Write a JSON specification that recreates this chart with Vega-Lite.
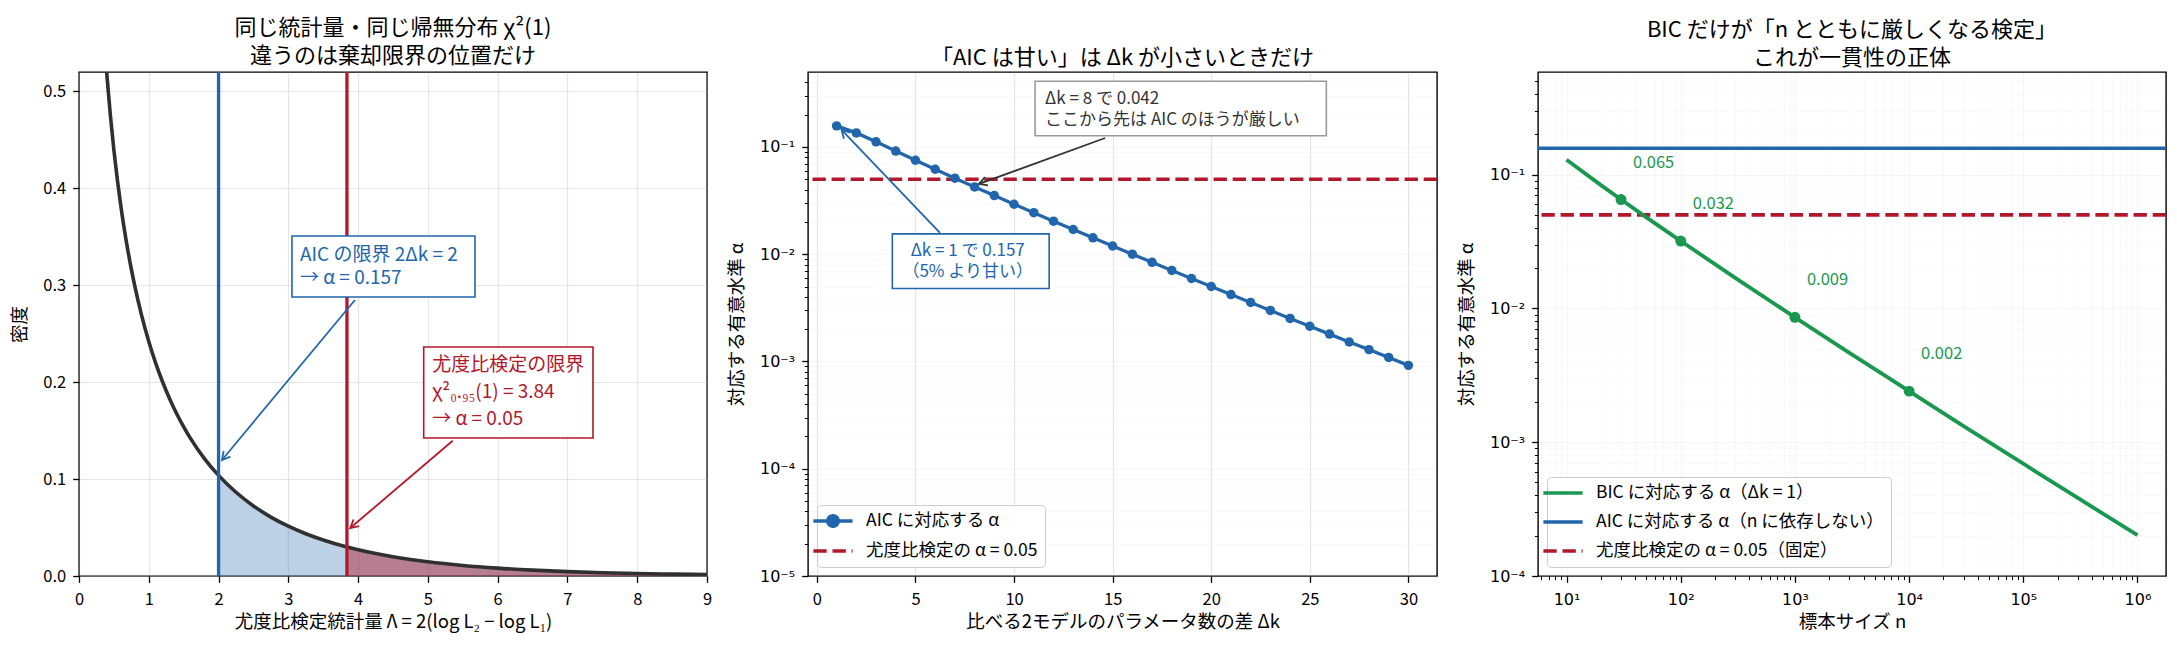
{
  "$schema": "https://vega.github.io/schema/vega-lite/v6.json",
  "background": "white",
  "padding": {"left": 10, "top": 16, "right": 13, "bottom": 5},
  "autosize": {"type": "pad"},
  "spacing": 101,
  "bounds": "flush",
  "config": {
    "font": "Noto Sans CJK JP",
    "view": {"stroke": "#000000", "strokeWidth": 1.4},
    "axis": {"domain": false, "ticks": true, "tickColor": "#000000", "tickWidth": 1.3, "tickSize": 6.3, "labelFont": "Noto Sans CJK JP", "labelFontSize": 16.5, "labelColor": "#000000", "labelPadding": 6, "labelFlush": false, "labelOverlap": false, "labelBound": false, "titleFont": "Noto Sans CJK JP", "titleFontSize": 18.5, "titleFontWeight": "normal", "titleColor": "#000000", "titlePadding": 9, "gridColor": "#b0b0b0", "gridOpacity": 0.32, "gridWidth": 1.2},
    "axisX": {"labelPadding": 9, "titlePadding": 5},
    "axisY": {"labelPadding": 7, "titlePadding": 13},
    "title": {"font": "Noto Sans CJK JP", "fontSize": 22, "fontWeight": "normal", "color": "#000000", "anchor": "middle", "baseline": "bottom", "offset": 2, "lineHeight": 28, "frame": "group"},
    "legend": {"labelFont": "Noto Sans CJK JP", "labelColor": "#000000", "labelLimit": 0}
  },
  "resolve": {"scale": {"x": "independent", "y": "independent", "color": "independent"}, "legend": {"color": "independent"}},
  "datasets": {
    "chi1": [
      {"x":0.3,"d":0.6269},{"x":0.35,"d":0.5661},{"x":0.4,"d":0.5164},{"x":0.45,"d":0.4749},{"x":0.5,"d":0.4394},{"x":0.55,"d":0.4086},{"x":0.6,"d":0.3815},{"x":0.65,"d":0.3575},{"x":0.7,"d":0.336},{"x":0.75,"d":0.3166},{"x":0.8,"d":0.299},{"x":0.9,"d":0.2681},{"x":1.0,"d":0.242},{"x":1.1,"d":0.2194},{"x":1.2,"d":0.1999},{"x":1.3,"d":0.1827},{"x":1.4,"d":0.1674},{"x":1.5,"d":0.1539},{"x":1.6,"d":0.1417},{"x":1.8,"d":0.1209},{"x":2.0,"d":0.1038},{"x":2.25,"d":0.0864},{"x":2.5,"d":0.0723},{"x":2.75,"d":0.0608},{"x":3.0,"d":0.0514},{"x":3.25,"d":0.0436},{"x":3.5,"d":0.0371},{"x":3.84,"d":0.02985},{"x":4.0,"d":0.027},{"x":4.5,"d":0.0198},{"x":5.0,"d":0.01465},{"x":5.5,"d":0.01087},{"x":6.0,"d":0.00811},{"x":6.5,"d":0.00607},{"x":7.0,"d":0.00455},{"x":7.5,"d":0.00342},{"x":8.0,"d":0.00258},{"x":8.5,"d":0.00195},{"x":9.0,"d":0.00148}
    ],
    "crit1": [{"rule": "AIC", "x": 2}, {"rule": "LR", "x": 3.84}],
    "aic": [
      {"dk":1,"alpha":0.1573},{"dk":2,"alpha":0.1353},{"dk":3,"alpha":0.1116},{"dk":4,"alpha":0.0916},{"dk":5,"alpha":0.0752},{"dk":6,"alpha":0.062},{"dk":7,"alpha":0.0512},{"dk":8,"alpha":0.0424},{"dk":9,"alpha":0.0352},{"dk":10,"alpha":0.02925},{"dk":11,"alpha":0.02439},{"dk":12,"alpha":0.02034},{"dk":13,"alpha":0.01701},{"dk":14,"alpha":0.01423},{"dk":15,"alpha":0.01193},{"dk":16,"alpha":0.01},{"dk":17,"alpha":0.0084},{"dk":18,"alpha":0.00706},{"dk":19,"alpha":0.00594},{"dk":20,"alpha":0.005},{"dk":21,"alpha":0.00421},{"dk":22,"alpha":0.00355},{"dk":23,"alpha":0.00299},{"dk":24,"alpha":0.00252},{"dk":25,"alpha":0.00213},{"dk":26,"alpha":0.0018},{"dk":27,"alpha":0.00152},{"dk":28,"alpha":0.00129},{"dk":29,"alpha":0.00109},{"dk":30,"alpha":0.00092}
    ],
    "bic": [
      {"n":10,"alpha":0.1292},{"n":20,"alpha":0.0835},{"n":30,"alpha":0.0651},{"n":50,"alpha":0.0479},{"n":100,"alpha":0.0319},{"n":300,"alpha":0.01693},{"n":1000,"alpha":0.00858},{"n":3000,"alpha":0.00466},{"n":10000,"alpha":0.00241},{"n":30000,"alpha":0.00132},{"n":100000,"alpha":0.000691},{"n":300000,"alpha":0.000383},{"n":1000000,"alpha":0.000202}
    ],
    "bicpts": [
      {"n":30,"alpha":0.0651,"label":"0.065"},{"n":100,"alpha":0.0319,"label":"0.032"},{"n":1000,"alpha":0.00858,"label":"0.009"},{"n":10000,"alpha":0.00241,"label":"0.002"}
    ],
    "annAic1": [{"label": "AIC の限界 2Δk = 2\n→ α = 0.157", "tx": 3.167, "ty": 0.3405, "bx1": 3.052, "bx2": 5.675, "by1": 0.2878, "by2": 0.3508, "ax": 3.955, "ay": 0.2848, "hx": 2.049, "hy": 0.1197}],
    "annLr1": [{"label": "尤度比検定の限界\nχ²₀.₉₅(1) = 3.84\n→ α = 0.05", "tx": 5.061, "ty": 0.2273, "bx1": 4.94, "bx2": 7.366, "by1": 0.1424, "by2": 0.2363, "ax": 5.355, "ay": 0.1396, "hx": 3.888, "hy": 0.0495}],
    "annAic2": [{"label": "Δk = 1 で 0.157\n（5% より甘い）", "tx": 7.65, "ty": 0.012755, "bx1": 3.827, "bx2": 11.78, "by1": 0.004786, "by2": 0.015467, "ax": 6.244, "ay": 0.01581, "hx": 1.254, "hy": 0.144}],
    "annDk8": [{"label": "Δk = 8 で 0.042\nここから先は AIC のほうが厳しい", "tx": 11.574, "ty": 0.3345, "bx1": 11.066, "bx2": 25.838, "by1": 0.1274, "by2": 0.4093, "ax": 14.62, "ay": 0.1213, "hx": 8.223, "hy": 0.0452}]
  },
  "hconcat": [
    {
      "width": 628, "height": 504,
      "title": {"text": ["同じ統計量・同じ帰無分布 χ²(1)", "違うのは棄却限界の位置だけ"]},
      "layer": [
        {
          "data": {"name": "chi1"}, "transform": [{"filter": "datum.x >= 2"}],
          "mark": {"type": "area", "color": "#2166ac", "opacity": 0.3, "interpolate": "monotone"},
          "encoding": {
            "x": {"field": "x", "type": "quantitative", "scale": {"domain": [0, 9], "nice": false, "zero": false},
                  "axis": {"values": [0,1,2,3,4,5,6,7,8,9], "format": "d", "grid": true, "title": "尤度比検定統計量 Λ = 2(log L₂ − log L₁)"}},
            "y": {"field": "d", "type": "quantitative", "stack": null, "scale": {"domain": [0, 0.52], "nice": false},
                  "axis": {"values": [0,0.1,0.2,0.3,0.4,0.5], "format": ".1f", "grid": true, "title": "密度"}}
          }
        },
        {
          "data": {"name": "chi1"}, "transform": [{"filter": "datum.x >= 3.84"}],
          "mark": {"type": "area", "color": "#b2182b", "opacity": 0.45, "interpolate": "monotone"},
          "encoding": {
            "x": {"field": "x", "type": "quantitative"},
            "y": {"field": "d", "type": "quantitative", "stack": null}
          }
        },
        {
          "data": {"name": "chi1"},
          "mark": {"type": "line", "color": "#303030", "strokeWidth": 3.6, "interpolate": "monotone", "clip": true},
          "encoding": {
            "x": {"field": "x", "type": "quantitative"},
            "y": {"field": "d", "type": "quantitative"}
          }
        },
        {
          "data": {"name": "crit1"},
          "mark": {"type": "rule", "strokeWidth": 3.3},
          "encoding": {
            "x": {"field": "x", "type": "quantitative"},
            "color": {"field": "rule", "type": "nominal", "scale": {"domain": ["AIC", "LR"], "range": ["#2166ac", "#b2182b"]}, "legend": null}
          }
        },
        {
          "data": {"name": "annAic1"},
          "mark": {"type": "rule", "color": "#2166ac", "strokeWidth": 1.8},
          "encoding": {"x": {"field": "ax", "type": "quantitative"}, "y": {"field": "ay", "type": "quantitative"}, "x2": {"field": "hx"}, "y2": {"field": "hy"}}
        },
        {
          "data": {"name": "annAic1"},
          "mark": {"type": "point", "shape": "M-1,-0.55L0,0L-1,0.55", "filled": false, "size": 256, "strokeWidth": 1.8, "color": "#2166ac", "opacity": 1, "angle": 129.7},
          "encoding": {"x": {"field": "hx", "type": "quantitative"}, "y": {"field": "hy", "type": "quantitative"}}
        },
        {
          "data": {"name": "annAic1"},
          "mark": {"type": "rect", "fill": "white", "stroke": "#2166ac", "strokeWidth": 1.6},
          "encoding": {"x": {"field": "bx1", "type": "quantitative"}, "x2": {"field": "bx2"}, "y": {"field": "by1", "type": "quantitative"}, "y2": {"field": "by2"}}
        },
        {
          "data": {"name": "annAic1"},
          "mark": {"type": "text", "align": "left", "baseline": "top", "fontSize": 19, "lineHeight": 23, "color": "#2166ac", "lineBreak": "\n"},
          "encoding": {"x": {"field": "tx", "type": "quantitative"}, "y": {"field": "ty", "type": "quantitative"}, "text": {"field": "label"}}
        },
        {
          "data": {"name": "annLr1"},
          "mark": {"type": "rule", "color": "#b2182b", "strokeWidth": 1.8},
          "encoding": {"x": {"field": "ax", "type": "quantitative"}, "y": {"field": "ay", "type": "quantitative"}, "x2": {"field": "hx"}, "y2": {"field": "hy"}}
        },
        {
          "data": {"name": "annLr1"},
          "mark": {"type": "point", "shape": "M-1,-0.55L0,0L-1,0.55", "filled": false, "size": 256, "strokeWidth": 1.8, "color": "#b2182b", "opacity": 1, "angle": 139.5},
          "encoding": {"x": {"field": "hx", "type": "quantitative"}, "y": {"field": "hy", "type": "quantitative"}}
        },
        {
          "data": {"name": "annLr1"},
          "mark": {"type": "rect", "fill": "white", "stroke": "#b2182b", "strokeWidth": 1.6},
          "encoding": {"x": {"field": "bx1", "type": "quantitative"}, "x2": {"field": "bx2"}, "y": {"field": "by1", "type": "quantitative"}, "y2": {"field": "by2"}}
        },
        {
          "data": {"name": "annLr1"},
          "mark": {"type": "text", "align": "left", "baseline": "top", "fontSize": 19, "lineHeight": 27, "color": "#b2182b", "lineBreak": "\n"},
          "encoding": {"x": {"field": "tx", "type": "quantitative"}, "y": {"field": "ty", "type": "quantitative"}, "text": {"field": "label"}}
        }
      ]
    },
    {
      "width": 629, "height": 504,
      "title": {"text": "「AIC は甘い」は Δk が小さいときだけ"},
      "layer": [
        {
          "data": {"values": [{}]},
          "mark": {"type": "rule", "strokeWidth": 3.6, "strokeDash": [13.3, 5.8]},
          "encoding": {
            "y": {"datum": 0.05, "type": "quantitative", "scale": {"type": "log", "domain": [0.00001, 0.5], "nice": false},
                  "axis": {"values": [0.00001,0.0001,0.001,0.01,0.1,0.00002,0.00003,0.00004,0.00005,0.00006,0.00007,0.00008,0.00009,0.0002,0.0003,0.0004,0.0005,0.0006,0.0007,0.0008,0.0009,0.002,0.003,0.004,0.005,0.006,0.007,0.008,0.009,0.02,0.03,0.04,0.05,0.06,0.07,0.08,0.09,0.2,0.3,0.4],
                           "labelExpr": "datum.value == 0.1 ? '10⁻¹' : datum.value == 0.01 ? '10⁻²' : datum.value == 0.001 ? '10⁻³' : datum.value == 0.0001 ? '10⁻⁴' : datum.value == 0.00001 ? '10⁻⁵' : ''",
                           "labelFont": "DejaVu Sans", "labelFontSize": 16,
                           "grid": true, "title": "対応する有意水準 α",
                           "tickSize": {"condition": {"test": "datum.value == 0.00001 || datum.value == 0.0001 || datum.value == 0.001 || datum.value == 0.01 || datum.value == 0.1", "value": 6.3}, "value": 3.6},
                           "tickWidth": {"condition": {"test": "datum.value == 0.00001 || datum.value == 0.0001 || datum.value == 0.001 || datum.value == 0.01 || datum.value == 0.1", "value": 1.3}, "value": 1.0},
                           "gridOpacity": {"condition": {"test": "datum.value == 0.00001 || datum.value == 0.0001 || datum.value == 0.001 || datum.value == 0.01 || datum.value == 0.1", "value": 0.32}, "value": 0.18}}},
            "color": {"datum": "尤度比検定の α = 0.05", "type": "nominal",
                      "scale": {"domain": ["AIC に対応する α", "尤度比検定の α = 0.05"], "range": ["#2166ac", "#b2182b"]},
                      "legend": {"title": null, "orient": "bottom-left", "offset": 9, "symbolType": "M-2.8,0L2.8,0", "symbolSize": 196, "symbolStrokeWidth": 3.3, "labelFontSize": 17.5, "labelOffset": 24, "rowPadding": 9, "padding": 7, "fillColor": "rgba(255,255,255,0.85)", "strokeColor": "#cccccc", "cornerRadius": 4,
                                 "encode": {"symbols": {"update": {
                                   "shape": {"signal": "datum.value === 'AIC に対応する α' ? 'M-2.8,0L2.8,0M0.76,0A0.76,0.76,0,1,1,-0.76,0A0.76,0.76,0,1,1,0.76,0Z' : 'M-2.8,0L2.8,0'"},
                                   "fill": {"signal": "datum.value === 'AIC に対応する α' ? '#2166ac' : 'transparent'"},
                                   "strokeDash": {"signal": "datum.value === 'AIC に対応する α' ? [1,0] : [13.3,5.8]"},
                                   "opacity": {"value": 1}
                                 }}}}}
          }
        },
        {
          "data": {"name": "aic"},
          "mark": {"type": "line", "strokeWidth": 3.3},
          "encoding": {
            "x": {"field": "dk", "type": "quantitative", "scale": {"domain": [-0.45, 31.45], "nice": false, "zero": false},
                  "axis": {"values": [0,5,10,15,20,25,30], "format": "d", "grid": true, "title": "比べる2モデルのパラメータ数の差 Δk"}},
            "y": {"field": "alpha", "type": "quantitative", "scale": {"type": "log"}},
            "color": {"datum": "AIC に対応する α", "type": "nominal"}
          }
        },
        {
          "data": {"name": "aic"},
          "mark": {"type": "point", "filled": true, "size": 90, "color": "#2166ac", "opacity": 1},
          "encoding": {
            "x": {"field": "dk", "type": "quantitative"},
            "y": {"field": "alpha", "type": "quantitative", "scale": {"type": "log"}}
          }
        },
        {
          "data": {"name": "annAic2"},
          "mark": {"type": "rule", "color": "#2166ac", "strokeWidth": 1.8},
          "encoding": {"x": {"field": "ax", "type": "quantitative"}, "y": {"field": "ay", "type": "quantitative", "scale": {"type": "log"}}, "x2": {"field": "hx"}, "y2": {"field": "hy"}}
        },
        {
          "data": {"name": "annAic2"},
          "mark": {"type": "point", "shape": "M-1,-0.55L0,0L-1,0.55", "filled": false, "size": 256, "strokeWidth": 1.8, "color": "#2166ac", "opacity": 1, "angle": 226.3},
          "encoding": {"x": {"field": "hx", "type": "quantitative"}, "y": {"field": "hy", "type": "quantitative", "scale": {"type": "log"}}}
        },
        {
          "data": {"name": "annAic2"},
          "mark": {"type": "rect", "fill": "white", "stroke": "#2166ac", "strokeWidth": 1.6},
          "encoding": {"x": {"field": "bx1", "type": "quantitative"}, "x2": {"field": "bx2"}, "y": {"field": "by1", "type": "quantitative", "scale": {"type": "log"}}, "y2": {"field": "by2"}}
        },
        {
          "data": {"name": "annAic2"},
          "mark": {"type": "text", "align": "center", "baseline": "top", "fontSize": 17, "lineHeight": 21, "color": "#2166ac", "lineBreak": "\n"},
          "encoding": {"x": {"field": "tx", "type": "quantitative"}, "y": {"field": "ty", "type": "quantitative", "scale": {"type": "log"}}, "text": {"field": "label"}}
        },
        {
          "data": {"name": "annDk8"},
          "mark": {"type": "rule", "color": "#333333", "strokeWidth": 1.8},
          "encoding": {"x": {"field": "ax", "type": "quantitative"}, "y": {"field": "ay", "type": "quantitative", "scale": {"type": "log"}}, "x2": {"field": "hx"}, "y2": {"field": "hy"}}
        },
        {
          "data": {"name": "annDk8"},
          "mark": {"type": "point", "shape": "M-1,-0.55L0,0L-1,0.55", "filled": false, "size": 256, "strokeWidth": 1.8, "color": "#333333", "opacity": 1, "angle": 159.9},
          "encoding": {"x": {"field": "hx", "type": "quantitative"}, "y": {"field": "hy", "type": "quantitative", "scale": {"type": "log"}}}
        },
        {
          "data": {"name": "annDk8"},
          "mark": {"type": "rect", "fill": "white", "stroke": "#999999", "strokeWidth": 1.6},
          "encoding": {"x": {"field": "bx1", "type": "quantitative"}, "x2": {"field": "bx2"}, "y": {"field": "by1", "type": "quantitative", "scale": {"type": "log"}}, "y2": {"field": "by2"}}
        },
        {
          "data": {"name": "annDk8"},
          "mark": {"type": "text", "align": "left", "baseline": "top", "fontSize": 17, "lineHeight": 21, "color": "#333333", "lineBreak": "\n"},
          "encoding": {"x": {"field": "tx", "type": "quantitative"}, "y": {"field": "ty", "type": "quantitative", "scale": {"type": "log"}}, "text": {"field": "label"}}
        }
      ]
    },
    {
      "width": 628, "height": 504,
      "title": {"text": ["BIC だけが「n とともに厳しくなる検定」", "これが一貫性の正体"]},
      "layer": [
        {
          "data": {"values": [{}]},
          "mark": {"type": "rule", "strokeWidth": 3.6},
          "encoding": {
            "y": {"datum": 0.1573, "type": "quantitative", "scale": {"type": "log", "domain": [0.0001, 0.585], "nice": false},
                  "axis": {"values": [0.0001,0.001,0.01,0.1,0.0002,0.0003,0.0004,0.0005,0.0006,0.0007,0.0008,0.0009,0.002,0.003,0.004,0.005,0.006,0.007,0.008,0.009,0.02,0.03,0.04,0.05,0.06,0.07,0.08,0.09,0.2,0.3,0.4,0.5],
                           "labelExpr": "datum.value == 0.1 ? '10⁻¹' : datum.value == 0.01 ? '10⁻²' : datum.value == 0.001 ? '10⁻³' : datum.value == 0.0001 ? '10⁻⁴' : ''",
                           "labelFont": "DejaVu Sans", "labelFontSize": 16,
                           "grid": true, "title": "対応する有意水準 α",
                           "tickSize": {"condition": {"test": "datum.value == 0.0001 || datum.value == 0.001 || datum.value == 0.01 || datum.value == 0.1", "value": 6.3}, "value": 3.6},
                           "tickWidth": {"condition": {"test": "datum.value == 0.0001 || datum.value == 0.001 || datum.value == 0.01 || datum.value == 0.1", "value": 1.3}, "value": 1.0},
                           "gridOpacity": {"condition": {"test": "datum.value == 0.0001 || datum.value == 0.001 || datum.value == 0.01 || datum.value == 0.1", "value": 0.32}, "value": 0.18}}},
            "color": {"datum": "AIC に対応する α（n に依存しない）", "type": "nominal",
                      "scale": {"domain": ["BIC に対応する α（Δk = 1）", "AIC に対応する α（n に依存しない）", "尤度比検定の α = 0.05（固定）"], "range": ["#1a9850", "#2166ac", "#b2182b"]},
                      "legend": {"title": null, "orient": "bottom-left", "offset": 9, "symbolType": "M-2.8,0L2.8,0", "symbolSize": 196, "symbolStrokeWidth": 3.6, "labelFontSize": 17.5, "labelOffset": 24, "rowPadding": 11, "padding": 7, "fillColor": "rgba(255,255,255,0.85)", "strokeColor": "#cccccc", "cornerRadius": 4,
                                 "encode": {"symbols": {"update": {
                                   "fill": {"value": "transparent"},
                                   "strokeDash": {"signal": "datum.value === '尤度比検定の α = 0.05（固定）' ? [13.3,5.8] : [1,0]"},
                                   "opacity": {"value": 1}
                                 }}}}}
          }
        },
        {
          "data": {"values": [{}]},
          "mark": {"type": "rule", "strokeWidth": 3.6, "strokeDash": [13.3, 5.8]},
          "encoding": {
            "y": {"datum": 0.05, "type": "quantitative", "scale": {"type": "log"}},
            "color": {"datum": "尤度比検定の α = 0.05（固定）", "type": "nominal"}
          }
        },
        {
          "data": {"name": "bic"},
          "mark": {"type": "line", "strokeWidth": 3.8, "interpolate": "monotone"},
          "encoding": {
            "x": {"field": "n", "type": "quantitative", "scale": {"type": "log", "domain": [5.623, 1778000], "nice": false},
                  "axis": {"values": [10,100,1000,10000,100000,1000000,6,7,8,9,20,30,40,50,60,70,80,90,200,300,400,500,600,700,800,900,2000,3000,4000,5000,6000,7000,8000,9000,20000,30000,40000,50000,60000,70000,80000,90000,200000,300000,400000,500000,600000,700000,800000,900000],
                           "labelExpr": "datum.value == 10 ? '10¹' : datum.value == 100 ? '10²' : datum.value == 1000 ? '10³' : datum.value == 10000 ? '10⁴' : datum.value == 100000 ? '10⁵' : datum.value == 1000000 ? '10⁶' : ''",
                           "labelFont": "DejaVu Sans", "labelFontSize": 16,
                           "grid": true, "title": "標本サイズ n",
                           "tickSize": {"condition": {"test": "datum.value == 10 || datum.value == 100 || datum.value == 1000 || datum.value == 10000 || datum.value == 100000 || datum.value == 1000000", "value": 6.3}, "value": 3.6},
                           "tickWidth": {"condition": {"test": "datum.value == 10 || datum.value == 100 || datum.value == 1000 || datum.value == 10000 || datum.value == 100000 || datum.value == 1000000", "value": 1.3}, "value": 1.0},
                           "gridOpacity": {"condition": {"test": "datum.value == 10 || datum.value == 100 || datum.value == 1000 || datum.value == 10000 || datum.value == 100000 || datum.value == 1000000", "value": 0.32}, "value": 0.18}}},
            "y": {"field": "alpha", "type": "quantitative", "scale": {"type": "log"}},
            "color": {"datum": "BIC に対応する α（Δk = 1）", "type": "nominal"}
          }
        },
        {
          "data": {"name": "bicpts"},
          "mark": {"type": "point", "filled": true, "size": 120, "color": "#1a9850", "opacity": 1},
          "encoding": {
            "x": {"field": "n", "type": "quantitative", "scale": {"type": "log"}},
            "y": {"field": "alpha", "type": "quantitative", "scale": {"type": "log"}}
          }
        },
        {
          "data": {"name": "bicpts"},
          "mark": {"type": "text", "align": "left", "baseline": "middle", "dx": 12, "dy": -37, "fontSize": 16.5, "color": "#1a9850"},
          "encoding": {
            "x": {"field": "n", "type": "quantitative", "scale": {"type": "log"}},
            "y": {"field": "alpha", "type": "quantitative", "scale": {"type": "log"}},
            "text": {"field": "label"}
          }
        }
      ]
    }
  ]
}
